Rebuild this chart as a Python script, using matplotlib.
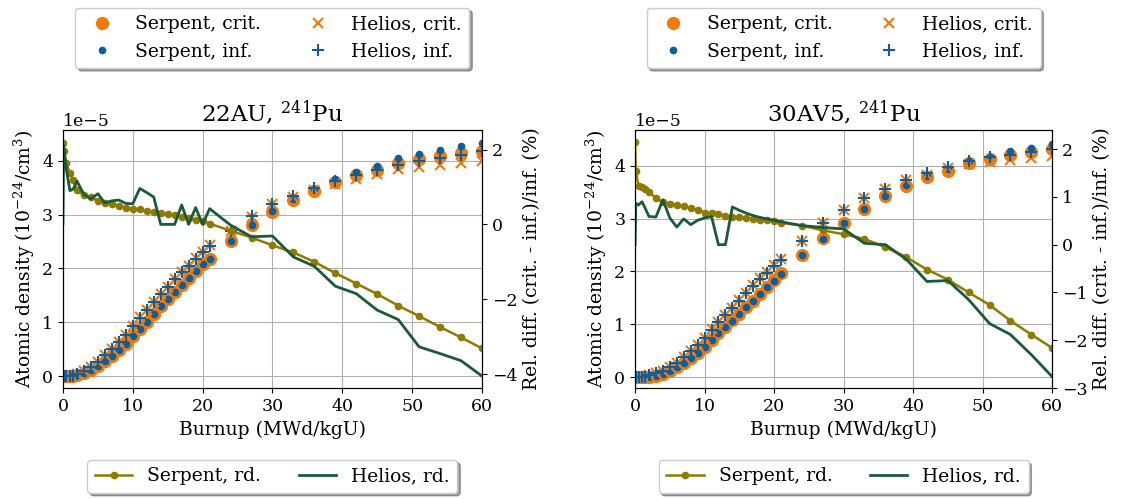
import matplotlib
matplotlib.use('Agg')
import matplotlib.pyplot as plt
from matplotlib.ticker import MultipleLocator
import numpy as np

plt.rcParams['font.family'] = ['DejaVu Serif']
plt.rcParams['mathtext.fontset'] = 'dejavuserif'
plt.rcParams['font.size'] = 13.5
plt.rcParams['xtick.labelsize'] = 12.5
plt.rcParams['ytick.labelsize'] = 12.5

C_ORANGE = '#f27a0c'
C_BLUE = '#0d5e9c'
C_OLIVE = '#8f7a00'
C_GREEN = '#1a5a3a'

burnup = [0, 0.1, 0.5, 1, 1.5, 2, 3, 4, 5, 6, 7, 8, 9, 10, 11, 12, 13, 14, 15, 16,
          17, 18, 19, 20, 21, 24, 27, 30, 33, 36, 39, 42, 45, 48, 51, 54, 57, 60]

# 22AU, atomic densities in units of 1e-5 (1e-24/cm^3)
au_serpent_crit = [0, 0, 0.001, 0.004, 0.008, 0.015, 0.06, 0.12, 0.19, 0.28, 0.37, 0.48, 0.60,
                   0.74, 0.88, 1.01, 1.16, 1.30, 1.43, 1.57, 1.70, 1.83, 1.96, 2.08, 2.18,
                   2.51, 2.80, 3.05, 3.27, 3.44, 3.61, 3.74, 3.83, 3.96, 4.03, 4.09, 4.14, 4.19]
au_serpent_inf = [0, 0, 0.001, 0.004, 0.008, 0.015, 0.06, 0.12, 0.19, 0.28, 0.37, 0.48, 0.60,
                  0.737, 0.877, 1.006, 1.156, 1.296, 1.426, 1.566, 1.697, 1.827, 1.958, 2.078, 2.18,
                  2.514, 2.81, 3.067, 3.295, 3.475, 3.658, 3.80, 3.903, 4.048, 4.131, 4.205, 4.269, 4.333]
au_helios_crit = [0, 0, 0.001, 0.002, 0.01, 0.04, 0.09, 0.17, 0.27, 0.39, 0.51, 0.63, 0.77,
                  0.935, 1.09, 1.23, 1.38, 1.53, 1.65, 1.80, 1.94, 2.05, 2.19, 2.31, 2.43,
                  2.69, 2.96, 3.19, 3.32, 3.46, 3.57, 3.67, 3.76, 3.84, 3.88, 3.92, 3.95, 3.99]
au_helios_inf = [0, 0, 0.001, 0.002, 0.01, 0.04, 0.09, 0.17, 0.27, 0.39, 0.51, 0.63, 0.77,
                 0.93, 1.08, 1.22, 1.37, 1.53, 1.65, 1.80, 1.93, 2.05, 2.18, 2.31, 2.42,
                 2.69, 2.97, 3.20, 3.35, 3.50, 3.62, 3.73, 3.83, 3.92, 3.99, 4.05, 4.11, 4.18]
au_serpent_rd = [2.18, 1.95, 1.63, 1.36, 1.18, 0.91, 0.78, 0.73, 0.63, 0.56, 0.54, 0.49, 0.45,
                 0.42, 0.40, 0.35, 0.33, 0.31, 0.27, 0.24, 0.20, 0.16, 0.11, 0.09, 0.02,
                 -0.17, -0.35, -0.56, -0.75, -1.00, -1.30, -1.58, -1.86, -2.17, -2.45, -2.74, -3.02, -3.31]
au_helios_rd = [0.02, 2.11, 1.45, 0.90, 0.95, 1.16, 0.80, 0.68, 0.82, 0.57, 0.63, 0.65, 0.56,
                0.55, 0.96, 0.85, 0.73, 0.0, 0.0, 0.0, 0.52, 0.0, 0.45, 0.0, 0.42,
                -0.02, -0.33, -0.31, -0.87, -1.12, -1.65, -1.85, -2.29, -2.54, -3.27, -3.45, -3.64, -4.05]

# 30AV5
av_serpent_crit = [0, 0, 0.001, 0.003, 0.007, 0.012, 0.03, 0.07, 0.12, 0.20, 0.28, 0.37, 0.47,
                   0.58, 0.71, 0.84, 0.96, 1.08, 1.20, 1.33, 1.45, 1.58, 1.71, 1.83, 1.97,
                   2.32, 2.63, 2.92, 3.18, 3.42, 3.62, 3.78, 3.90, 4.04, 4.12, 4.20, 4.26, 4.31]
av_serpent_inf = [0, 0, 0.001, 0.003, 0.007, 0.012, 0.03, 0.07, 0.12, 0.198, 0.278, 0.367, 0.467,
                  0.576, 0.705, 0.835, 0.954, 1.074, 1.193, 1.323, 1.442, 1.572, 1.701, 1.821, 1.961,
                  2.31, 2.62, 2.91, 3.18, 3.42, 3.63, 3.80, 3.93, 4.08, 4.17, 4.27, 4.34, 4.41]
av_helios_crit = [0, 0, 0.001, 0.005, 0.015, 0.04, 0.08, 0.13, 0.20, 0.28, 0.38, 0.49, 0.62,
                  0.74, 0.905, 1.04, 1.18, 1.32, 1.46, 1.60, 1.74, 1.87, 1.99, 2.12, 2.23,
                  2.58, 2.92, 3.17, 3.38, 3.55, 3.72, 3.83, 3.95, 4.03, 4.07, 4.10, 4.15, 4.18]
av_helios_inf = [0, 0, 0.001, 0.005, 0.015, 0.04, 0.08, 0.13, 0.20, 0.28, 0.38, 0.49, 0.62,
                 0.74, 0.90, 1.04, 1.18, 1.31, 1.45, 1.59, 1.73, 1.86, 1.98, 2.11, 2.22,
                 2.57, 2.91, 3.16, 3.38, 3.55, 3.73, 3.86, 3.98, 4.08, 4.17, 4.20, 4.26, 4.31]
av_serpent_rd = [2.16, 1.55, 1.22, 1.20, 1.16, 1.11, 0.97, 0.90, 0.86, 0.83, 0.80, 0.77, 0.73,
                 0.67, 0.66, 0.64, 0.61, 0.59, 0.57, 0.56, 0.54, 0.52, 0.52, 0.50, 0.46,
                 0.40, 0.30, 0.22, 0.12, -0.05, -0.26, -0.52, -0.73, -1.00, -1.26, -1.59, -1.88, -2.16]
av_helios_rd = [0.0, 0.87, 0.83, 0.90, 0.75, 0.59, 0.58, 0.94, 0.56, 0.37, 0.54, 0.42, 0.51,
                0.56, 0.59, 0.0, 0.0, 0.79, 0.72, 0.66, 0.61, 0.57, 0.54, 0.51, 0.48,
                0.40, 0.36, 0.33, 0.03, 0.0, -0.30, -0.77, -0.75, -1.15, -1.65, -1.88, -2.30, -2.76]

panels = [
    ('22AU', au_serpent_crit, au_serpent_inf, au_helios_crit, au_helios_inf,
     au_serpent_rd, au_helios_rd, (-0.22, 4.57), (-4.37, 2.52), 2),
    ('30AV5', av_serpent_crit, av_serpent_inf, av_helios_crit, av_helios_inf,
     av_serpent_rd, av_helios_rd, (-0.2, 4.67), (-3.0, 2.40), 1),
]

fig = plt.figure(figsize=(11.24, 4.99), dpi=100)
positions = [[0.056, 0.2224, 0.3728, 0.517], [0.565, 0.2224, 0.371, 0.517]]

b = np.array(burnup)
for pos, (name, s_crit, s_inf, h_crit, h_inf, s_rd, h_rd, ylim, ylim_rd, rd_step) in zip(positions, panels):
    ax = fig.add_axes(pos)
    ax.grid(color='#b0b0b0', lw=0.8)
    ax.set_axisbelow(True)
    ax.plot(b, np.array(s_crit) * 1e-5, 'o', color=C_ORANGE, ms=8.5, ls='none', label='Serpent, crit.')
    ax.plot(b, np.array(s_inf) * 1e-5, 'o', color=C_BLUE, ms=4.5, ls='none', label='Serpent, inf.')
    ax.plot(b, np.array(h_crit) * 1e-5, 'x', color=C_ORANGE, ms=7.5, mew=1.5, ls='none', label='Helios, crit.')
    ax.plot(b, np.array(h_inf) * 1e-5, '+', color=C_BLUE, ms=8.5, mew=1.5, ls='none', label='Helios, inf.')
    ax.set_xlim(0, 60)
    ax.set_ylim(ylim[0] * 1e-5, ylim[1] * 1e-5)
    ax.set_xlabel('Burnup (MWd/kgU)')
    ax.set_ylabel(r'Atomic density ($10^{-24}$/cm$^3$)')
    ax.set_title(name + r', $^{241}$Pu', fontsize=16.5)

    ax2 = ax.twinx()
    ax2.plot(b, s_rd, '-o', color=C_OLIVE, lw=1.8, ms=4.5, label='Serpent, rd.')
    ax2.plot(b, h_rd, '-', color=C_GREEN, lw=2, label='Helios, rd.')
    ax2.set_ylim(*ylim_rd)
    ax2.yaxis.set_major_locator(MultipleLocator(rd_step))
    ax2.set_ylabel('Rel. diff. (crit. - inf.)/inf. (%)')

    ax.legend(loc='lower center', bbox_to_anchor=(0.5, 1.24), ncol=2, shadow=True,
              borderpad=0.4, borderaxespad=0)
    ax2.legend(loc='upper center', bbox_to_anchor=(0.5, -0.279), ncol=2, shadow=True,
               borderpad=0.4, borderaxespad=0)

fig.savefig('out.png', dpi=100)
